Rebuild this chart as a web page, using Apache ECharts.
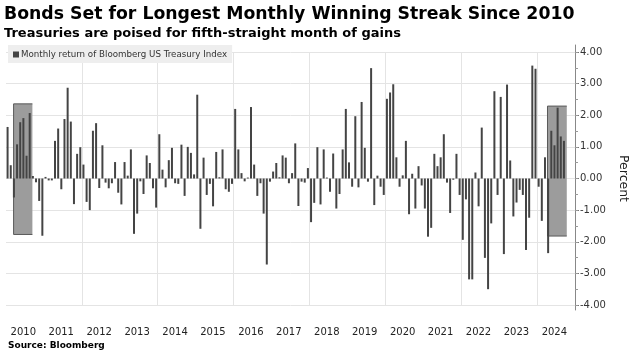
<!DOCTYPE html>
<html><head><meta charset="utf-8">
<script src="https://cdn.jsdelivr.net/npm/echarts@6/dist/echarts.min.js"></script>
<style>html,body{margin:0;padding:0;background:#fff}#c{width:638px;height:357px}</style>
</head><body><div id="c"></div>
<script>
// Monthly return of Bloomberg US Treasury Index (%), Jan 2010 – Sep 2024
const years = [2010,2011,2012,2013,2014,2015,2016,2017,2018,2019,2020,2021,2022,2023,2024];
const r2010 = [1.63, 0.42, -0.6, 1.08, 1.78, 1.91, 0.72, 2.07, 0.08, -0.12, -0.71, -1.81];
const r2011 = [0.05, -0.06, -0.06, 1.19, 1.58, -0.34, 1.88, 2.87, 1.80, -0.81, 0.78, 0.99];
const r2012 = [0.44, -0.74, -1.00, 1.51, 1.75, -0.30, 1.05, -0.13, -0.31, -0.15, 0.52, -0.45];
const r2013 = [-0.82, 0.52, 0.09, 0.92, -1.75, -1.11, -0.09, -0.49, 0.73, 0.49, -0.31, -0.92];
const r2014 = [1.40, 0.28, -0.28, 0.58, 0.97, -0.15, -0.17, 1.07, -0.55, 1.00, 0.81, 0.13];
const r2015 = [2.65, -1.59, 0.66, -0.52, -0.17, -0.88, 0.84, 0.04, 0.92, -0.34, -0.42, -0.17];
const r2016 = [2.20, 0.92, 0.17, -0.09, 0.03, 2.26, 0.44, -0.55, -0.15, -1.11, -2.72, -0.10];
const r2017 = [0.22, 0.49, 0.04, 0.73, 0.66, -0.15, 0.17, 1.11, -0.87, -0.10, -0.13, 0.33];
const r2018 = [-1.38, -0.77, 0.99, -0.82, 0.92, 0.03, -0.42, 0.79, -0.95, -0.49, 0.92, 2.20];
const r2019 = [0.51, -0.26, 1.97, -0.28, 2.42, 0.97, -0.10, 3.49, -0.84, 0.09, -0.26, -0.52];
const r2020 = [2.52, 2.72, 2.98, 0.67, -0.26, 0.10, 1.19, -1.13, 0.15, -0.95, 0.39, -0.22];
const r2021 = [-0.95, -1.84, -1.56, 0.78, 0.39, 0.67, 1.40, -0.13, -1.09, -0.04, 0.78, -0.52];
const r2022 = [-1.94, -0.66, -3.19, -3.19, 0.19, -0.88, 1.61, -2.51, -3.50, -1.42, 2.76, -0.52];
const r2023 = [2.58, -2.39, 2.97, 0.57, -1.20, -0.76, -0.36, -0.52, -2.26, -1.24, 3.57, 3.47];
const r2024 = [-0.26, -1.34, 0.67, -2.36, 1.51, 1.05, 2.24, 1.33, 1.19, null, null, null];
const yTicks = [-4, -3, -2, -1, 0, 1, 2, 3, 4];
// winning-streak highlight boxes: [fromMonthIndex, toMonthIndex, low %, high %]
const highlightBoxes = [[1.9, 7.85, -1.77, 2.36], [170.8, 176.9, -1.82, 2.29]];

const allYears = [r2010,r2011,r2012,r2013,r2014,r2015,r2016,r2017,r2018,r2019,r2020,r2021,r2022,r2023,r2024];
const categories = [];
const values = [];
years.forEach((y, k) => {
  allYears[k].forEach((v, m) => {
    categories.push(y + '-' + String(m + 1).padStart(2, '0'));
    values.push(v);
  });
});

const FONT = 'DejaVu Sans';
const yMin = yTicks[0], yMax = yTicks[yTicks.length - 1];
const chart = echarts.init(document.getElementById('c'), null, {renderer: 'canvas'});
chart.setOption({
  animation: false,
  backgroundColor: '#ffffff',
  textStyle: {fontFamily: FONT},
  title: [
    {text: 'Bonds Set for Longest Monthly Winning Streak Since 2010', left: 4, top: 6, padding: 0,
     textStyle: {fontFamily: FONT, fontWeight: 'bold', fontSize: 17.3, color: '#000'}},
    {text: 'Treasuries are poised for fifth-straight month of gains', left: 4, top: 27, padding: 0,
     textStyle: {fontFamily: FONT, fontWeight: 'bold', fontSize: 13, color: '#000'}},
    {text: 'Source: Bloomberg', left: 8, top: 341, padding: 0,
     textStyle: {fontFamily: FONT, fontWeight: 'bold', fontSize: 9, color: '#000'}}
  ],
  legend: {
    left: 8, top: 45, padding: [5, 5, 4, 5], backgroundColor: '#eeeeee',
    icon: 'rect', itemWidth: 6, itemHeight: 6, itemGap: 4,
    textStyle: {fontFamily: FONT, fontSize: 8.7, color: '#333', padding: [0, 0, 0, -3]},
    data: ['Monthly return of Bloomberg US Treasury Index']
  },
  grid: [
    {left: 6, right: 63, top: 52, bottom: 52, containLabel: false},
    {left: 6, right: 63, top: 45, bottom: 47, containLabel: false}
  ],
  xAxis: [
    {type: 'category', gridIndex: 0, data: categories, boundaryGap: true,
     axisLine: {show: false}, axisTick: {show: false},
     axisLabel: {interval: (i) => i % 12 === 0, formatter: (v) => v.slice(0, 4),
       align: 'left', margin: 22, padding: [0, 0, 0, 3], fontFamily: FONT, fontSize: 10, color: '#222'},
     splitLine: {show: true, interval: (i) => i > 0 && i % 24 === 0, lineStyle: {color: '#e4e4e4', width: 1}}},
    {type: 'value', gridIndex: 0, min: -0.5, max: categories.length - 0.5, show: false},
    {type: 'value', gridIndex: 1, min: 0, max: 1, show: false}
  ],
  yAxis: [
    {type: 'value', gridIndex: 0, position: 'right', min: yMin, max: yMax, interval: 1,
     name: 'Percent', nameLocation: 'middle', nameRotate: -90, nameGap: 40,
     nameTextStyle: {fontFamily: FONT, fontSize: 12.5, color: '#222'},
     axisLine: {show: false, onZero: false},
     axisTick: {show: true, length: 4, lineStyle: {color: '#777'}},
     axisLabel: {formatter: (v) => v.toFixed(2), margin: 5, fontFamily: FONT, fontSize: 10, color: '#333'},
     splitLine: {show: true, lineStyle: {color: '#e4e4e4', width: 1}}},
    {type: 'value', gridIndex: 1, position: 'right', min: 0, max: 1,
     axisLine: {show: true, onZero: false, lineStyle: {color: '#888', width: 1}},
     axisTick: {show: false}, axisLabel: {show: false}, splitLine: {show: false}},
    {type: 'value', gridIndex: 0, position: 'right', min: yMin, max: yMax, interval: 0.5,
     axisLine: {show: false, onZero: false},
     axisTick: {show: true, length: 3, lineStyle: {color: '#999'}},
     axisLabel: {show: false}, splitLine: {show: false}}
  ],
  series: [
    {type: 'custom', xAxisIndex: 1, yAxisIndex: 0, z: 1, silent: true,
     data: highlightBoxes,
     renderItem: (params, api) => {
       const p0 = api.coord([api.value(0), api.value(3)]);
       const p1 = api.coord([api.value(1), api.value(2)]);
       return {type: 'group', children: [
         {type: 'rect', shape: {x: p0[0], y: p0[1], width: p1[0] - p0[0], height: p1[1] - p0[1]},
          style: {fill: '#9c9c9c'}},
         {type: 'polyline', shape: {points: [[p1[0], p0[1]], [p0[0], p0[1]], [p0[0], p1[1]], [p1[0], p1[1]]]},
          style: {stroke: '#5a5a5a', lineWidth: 1, fill: null}}
       ]};
     }},
    {type: 'bar', name: 'Monthly return of Bloomberg US Treasury Index', xAxisIndex: 0, yAxisIndex: 0, z: 3,
     data: values, barWidth: 2, itemStyle: {color: '#444444'}}
  ]
});
</script></body></html>
